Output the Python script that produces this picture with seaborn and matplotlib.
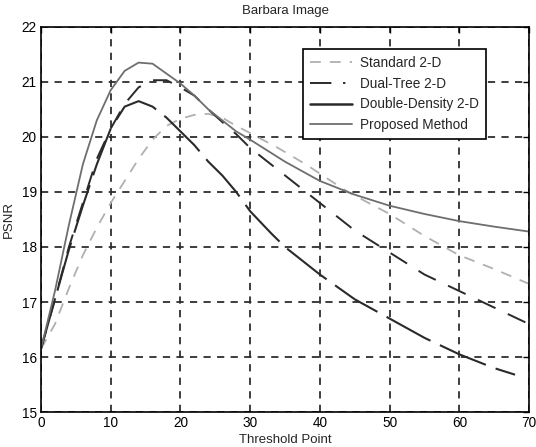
import matplotlib
matplotlib.use("Agg")
import matplotlib.pyplot as plt
from matplotlib.lines import Line2D
import seaborn as sns
import pandas as pd

# threshold points and PSNR values
x_std = [0, 2, 4, 6, 8, 10, 12, 14, 16, 18, 20, 22, 24, 26, 28, 30, 34, 38, 44, 50, 55, 60, 65, 70]
y_std = [16.15, 16.6, 17.25, 17.85, 18.35, 18.8, 19.2, 19.6, 19.95, 20.2, 20.33, 20.4, 20.42, 20.35,
         20.2, 20.07, 19.8, 19.5, 19.0, 18.6, 18.2, 17.85, 17.6, 17.33]

x_dual = [0, 2, 4, 6, 8, 10, 12, 14, 16, 18, 20, 22, 24, 26, 28, 30, 35, 40, 45, 50, 55, 60, 65, 70]
y_dual = [16.15, 17.05, 18.0, 18.8, 19.6, 20.15, 20.6, 20.9, 21.03, 21.03, 20.9, 20.75, 20.5, 20.27,
          20.05, 19.8, 19.3, 18.8, 18.3, 17.9, 17.5, 17.2, 16.9, 16.6]

x_dd = [0, 2, 4, 6, 8, 10, 12, 14, 16, 18, 20, 22, 24, 26, 28, 30, 33, 35, 40, 45, 50, 55, 60, 65, 68]
y_dd = [16.15, 17.05, 17.95, 18.75, 19.5, 20.15, 20.55, 20.65, 20.55, 20.35, 20.1, 19.85, 19.55, 19.3,
        19.0, 18.65, 18.25, 18.0, 17.5, 17.05, 16.7, 16.35, 16.05, 15.8, 15.68]

x_prop = [0, 2, 4, 6, 8, 10, 12, 14, 16, 18, 20, 22, 24, 26, 28, 30, 35, 40, 45, 50, 55, 60, 65, 70]
y_prop = [16.15, 17.2, 18.4, 19.5, 20.3, 20.85, 21.2, 21.35, 21.33, 21.15, 20.97, 20.75, 20.5, 20.3,
          20.1, 19.95, 19.55, 19.2, 18.95, 18.75, 18.6, 18.47, 18.37, 18.28]

labels = ["Standard 2-D", "Dual-Tree 2-D", "Double-Density 2-D", "Proposed Method"]

sns.set_theme(style="white")
plt.rcParams["font.family"] = ["Liberation Sans", "DejaVu Sans"]

fig = plt.figure(figsize=(5.36, 4.47), dpi=100)
ax = fig.add_axes([0.0765, 0.078, 0.9105, 0.862])

df_std = pd.DataFrame({"x": x_std, "y": y_std})
df_dual = pd.DataFrame({"x": x_dual, "y": y_dual})
df_dd = pd.DataFrame({"x": x_dd, "y": y_dd})
df_prop = pd.DataFrame({"x": x_prop, "y": y_prop})

sns.lineplot(data=df_std, x="x", y="y", ax=ax, color="#b0b0b0", lw=1.3)
ax.lines[-1].set_dashes((6, 5))
sns.lineplot(data=df_dual, x="x", y="y", ax=ax, color="#2a2a2a", lw=1.4)
ax.lines[-1].set_dashes((10, 7))
sns.lineplot(data=df_dd, x="x", y="y", ax=ax, color="#2a2a2a", lw=1.5)
ax.lines[-1].set_dashes((24, 5))
sns.lineplot(data=df_prop, x="x", y="y", ax=ax, color="#6e6e6e", lw=1.3)

ax.set_xlim(0, 70)
ax.set_ylim(15, 22)
ax.set_xticks(range(0, 71, 10))
ax.set_yticks(range(15, 23))
ax.grid(True, color="#2e2e2e", lw=1.3, linestyle=(0, (4, 3.5)))
ax.set_axisbelow(True)
for s in ax.spines.values():
    s.set_color("black")
    s.set_linewidth(1.2)
ax.tick_params(direction="in", top=True, right=True, length=4, width=1,
               labelsize=9.8, colors="black", pad=3)

ax.set_title("Barbara Image", fontsize=9.5, pad=9)
ax.set_xlabel("Threshold Point", fontsize=9.5, labelpad=3)
ax.set_ylabel("PSNR", fontsize=9.5, labelpad=5)

handles = [
    Line2D([], [], color="#b0b0b0", lw=1.3, dashes=(6, 5)),
    Line2D([], [], color="#2a2a2a", lw=1.4, dashes=(11, 6, 1.2, 4)),
    Line2D([], [], color="#2a2a2a", lw=1.8),
    Line2D([], [], color="#6e6e6e", lw=1.3),
]
leg = ax.legend(handles, labels, loc="upper right", bbox_to_anchor=(0.925, 0.96),
                fontsize=9.8, frameon=True, fancybox=False, framealpha=1,
                edgecolor="black", handlelength=3.1, handletextpad=0.6,
                borderpad=0.5, labelspacing=0.5)
leg.get_frame().set_linewidth(1.2)

fig.savefig("out.png", dpi=100)
